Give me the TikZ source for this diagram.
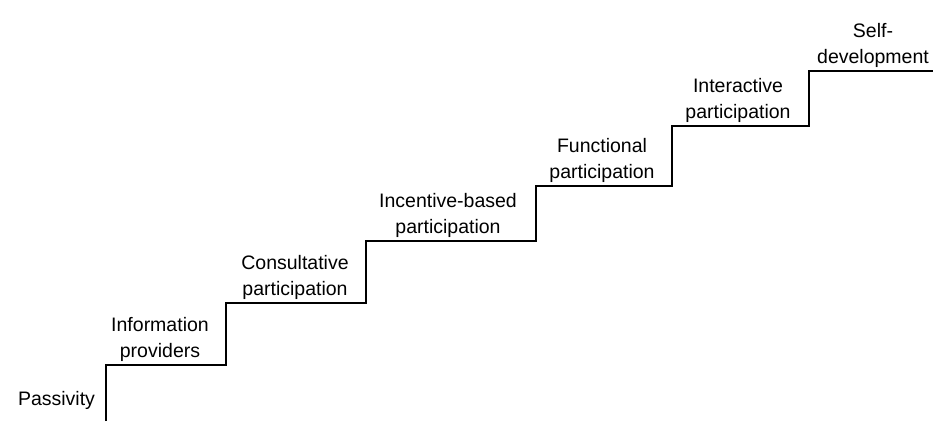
\documentclass[tikz,border=0pt]{standalone}
\usepackage{fontspec}
\setmainfont{Liberation Sans}
\begin{document}
\begin{tikzpicture}[x=1pt,y=1pt,
  stair/.style={line width=2.8pt, line join=miter, black},
  steplabel/.style={anchor=south, inner sep=0pt, align=center,
    font={\fontsize{19.5}{26.5}\selectfont}, text=black}]
\useasboundingbox (0,0) rectangle (933,421);
% corners of the staircase
\coordinate (s0) at (106,0);
\coordinate (s1) at (106,56);
\coordinate (s2) at (226,56);
\coordinate (s3) at (226,118);
\coordinate (s4) at (366,118);
\coordinate (s5) at (366,180);
\coordinate (s6) at (536,180);
\coordinate (s7) at (536,235);
\coordinate (s8) at (672,235);
\coordinate (s9) at (672,295);
\coordinate (s10) at (809,295);
\coordinate (s11) at (809,350);
\coordinate (s12) at (933,350);
\draw[stair] (s0) -- (s1) -- (s2) -- (s3) -- (s4) -- (s5) -- (s6)
  -- (s7) -- (s8) -- (s9) -- (s10) -- (s11) -- (s12);
% labels on each step
\node[steplabel, anchor=base] (l0) at (56.5,16) {Passivity};
\node[steplabel] (l1) at (160,59) {Information\\providers};
\node[steplabel] (l2) at (295,121) {Consultative\\participation};
\node[steplabel] (l3) at (448,183) {Incentive-based\\participation};
\node[steplabel] (l4) at (602,238) {Functional\\participation};
\node[steplabel] (l5) at (738,298) {Interactive\\participation};
\node[steplabel] (l6) at (873,353) {Self-\\development};
\end{tikzpicture}
\end{document}
